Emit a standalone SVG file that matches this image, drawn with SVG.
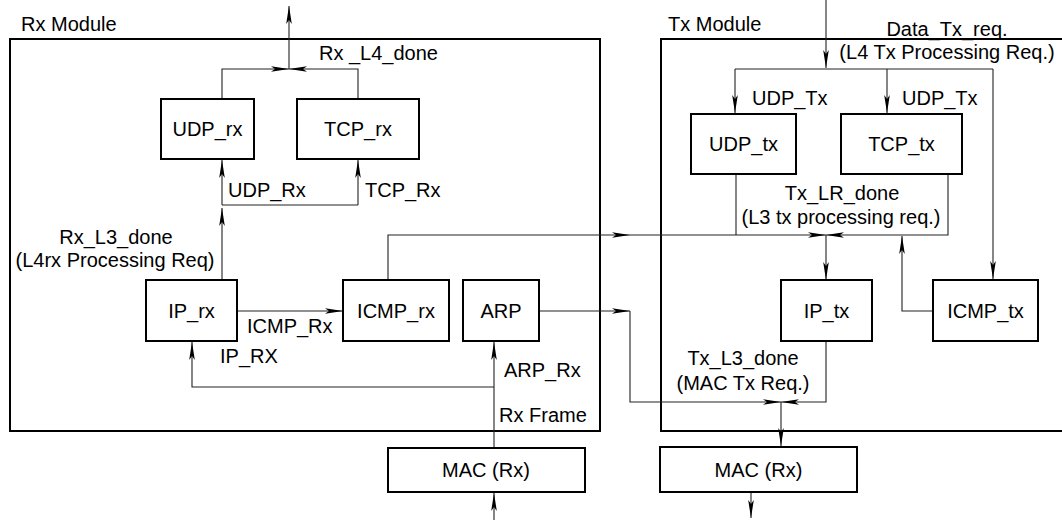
<svg xmlns="http://www.w3.org/2000/svg" width="1062" height="520" viewBox="0 0 1062 520">
<style>
text{font-family:"Liberation Sans",Arial,sans-serif;font-size:20px;fill:#000}
.c{text-anchor:middle}
.box{fill:#fff;stroke:#000;stroke-width:2}
.mod{fill:none;stroke:#000;stroke-width:2}
.ln{fill:none;stroke:#222;stroke-width:1.1}
.ar{fill:none;stroke:#222;stroke-width:1.1;marker-end:url(#ah)}
</style>
<defs>
<marker id="ah" markerUnits="userSpaceOnUse" markerWidth="20" markerHeight="8" viewBox="-18 -4 19 8" refX="0" refY="0" orient="auto">
<path d="M0,0 L-18,-2.8 L-14,0 L-18,2.8 Z" fill="#000"/>
</marker>
</defs>
<g id="rx-module"><rect class="mod" x="10" y="39" width="590" height="392"/><text x="21" y="31">Rx Module</text></g>
<g id="tx-module"><rect class="mod" x="661" y="39" width="420" height="392"/><text x="668" y="31">Tx Module</text></g>
<g id="connectors">
<path class="ar" d="M222,99 V69 H289"/>
<path class="ar" d="M358,99 V69 H289"/>
<path class="ar" d="M289,69 V6"/>
<path class="ar" d="M222,280 V208"/>
<path class="ln" d="M222,205 H358"/>
<path class="ar" d="M222,205 V160"/>
<path class="ar" d="M358,205 V160"/>
<path class="ar" d="M237,311 H343"/>
<path class="ar" d="M388,280 V235 H630"/>
<path class="ar" d="M630,235 H826"/>
<path class="ln" d="M736,174 V235"/>
<path class="ar" d="M948,174 V235 H826"/>
<path class="ar" d="M826,235 V280"/>
<path class="ar" d="M933,311 H902 V236"/>
<path class="ar" d="M539,311 H630"/>
<path class="ar" d="M630,311 V402 H781"/>
<path class="ar" d="M826,341 V402 H781"/>
<path class="ar" d="M781,402 V446"/>
<path class="ar" d="M751,492 V518"/>
<path class="ar" d="M494,520 V493"/>
<path class="ar" d="M494,448 V342"/>
<path class="ar" d="M494,387 H192 V342"/>
<path class="ar" d="M826,0 V68"/>
<path class="ln" d="M735,69 H993"/>
<path class="ar" d="M735,69 V113"/>
<path class="ar" d="M887,69 V113"/>
<path class="ar" d="M993,69 V279"/>
</g>
<g id="labels">
<text x="319" y="60">Rx _L4_done</text>
<text x="228" y="197">UDP_Rx</text>
<text x="365" y="197">TCP_Rx</text>
<text class="c" x="116" y="244">Rx_L3_done</text>
<text class="c" x="115" y="267">(L4rx Processing Req)</text>
<text x="247" y="333">ICMP_Rx</text>
<text x="220" y="363">IP_RX</text>
<text x="504" y="377">ARP_Rx</text>
<text x="499" y="422">Rx Frame</text>
<text class="c" x="947" y="36">Data_Tx_req.</text>
<text class="c" x="947" y="59">(L4 Tx Processing Req.)</text>
<text x="752" y="105">UDP_Tx</text>
<text x="902" y="105">UDP_Tx</text>
<text class="c" x="842" y="200">Tx_LR_done</text>
<text class="c" x="841" y="224">(L3 tx processing req.)</text>
<text class="c" x="743" y="365">Tx_L3_done</text>
<text class="c" x="743" y="390">(MAC Tx Req.)</text>
</g>
<g id="udp-rx"><rect class="box" x="161" y="99" width="93" height="60"/><text class="c" x="207.5" y="136">UDP_rx</text></g>
<g id="tcp-rx"><rect class="box" x="297" y="99" width="122" height="60"/><text class="c" x="358" y="136">TCP_rx</text></g>
<g id="ip-rx"><rect class="box" x="146" y="280" width="91" height="61"/><text class="c" x="191.5" y="318">IP_rx</text></g>
<g id="icmp-rx"><rect class="box" x="343" y="280" width="106" height="61"/><text class="c" x="396" y="318">ICMP_rx</text></g>
<g id="arp"><rect class="box" x="463" y="280" width="76" height="61"/><text class="c" x="501" y="318">ARP</text></g>
<g id="mac-rx"><rect class="box" x="388" y="448" width="197" height="44"/><text class="c" x="486" y="477">MAC (Rx)</text></g>
<g id="udp-tx"><rect class="box" x="691" y="114" width="105" height="60"/><text class="c" x="743.5" y="151">UDP_tx</text></g>
<g id="tcp-tx"><rect class="box" x="841" y="114" width="121" height="60"/><text class="c" x="901.5" y="151">TCP_tx</text></g>
<g id="ip-tx"><rect class="box" x="781" y="280" width="91" height="61"/><text class="c" x="826.5" y="318">IP_tx</text></g>
<g id="icmp-tx"><rect class="box" x="933" y="280" width="105" height="61"/><text class="c" x="985.5" y="318">ICMP_tx</text></g>
<g id="mac-tx"><rect class="box" x="660" y="447" width="197" height="45"/><text class="c" x="758.5" y="477">MAC (Rx)</text></g>
</svg>
